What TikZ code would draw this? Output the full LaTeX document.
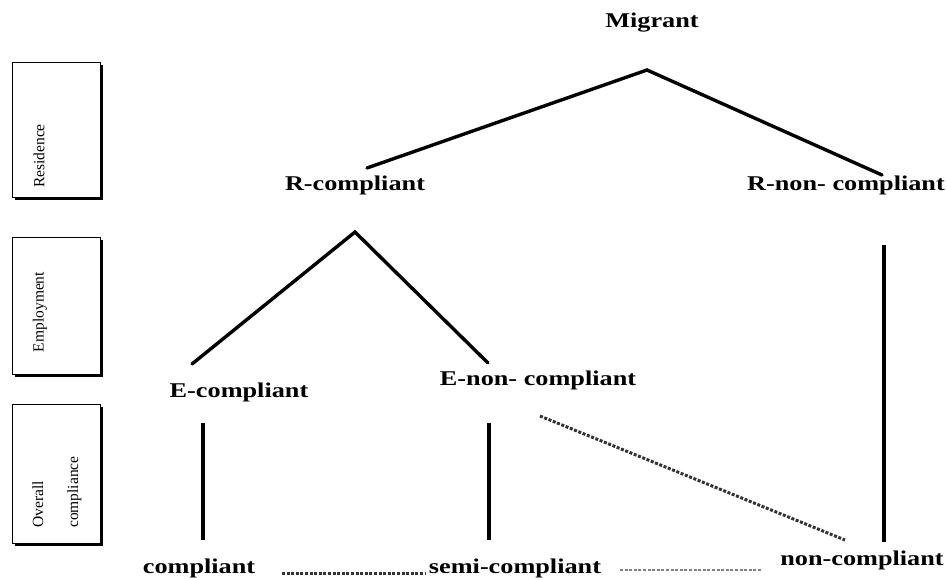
\documentclass[tikz,border=0pt]{standalone}
\usepackage{fontspec}
\setmainfont{Liberation Serif}[FakeStretch=1.25]
\newfontfamily\sidefont{Liberation Serif}
\usetikzlibrary{shadows}
\begin{document}
\begin{tikzpicture}[x=1pt,y=-1pt,
  lbl/.style={font=\fontsize{21}{24}\selectfont\bfseries, inner sep=0pt, anchor=base},
  sidebox/.style={draw=black, line width=1pt, fill=white,
    drop shadow={shadow xshift=2.5pt, shadow yshift=-2.5pt, fill=black, opacity=1}},
  sidetext/.style={font=\sidefont\fontsize{15.5}{35}\selectfont, rotate=90, inner sep=0pt, align=left},
  branch/.style={line width=3.4pt, line cap=round},
  stem/.style={line width=3.4pt},
  dotline/.style={line width=3pt, dash pattern=on 3pt off 1.6pt, draw=black!80},
  dotlight/.style={line width=2.6pt, dash pattern=on 3pt off 1.6pt, draw=black!50}]
\useasboundingbox (0,0) rectangle (947,579);

% side boxes
\node[sidebox, minimum width=88pt, minimum height=135pt, inner sep=0pt] (bres) at (56,129.5) {};
\node[sidebox, minimum width=88pt, minimum height=137pt, inner sep=0pt] (bemp) at (56,305.5) {};
\node[sidebox, minimum width=88pt, minimum height=139pt, inner sep=0pt] (bov) at (56,473.5) {};
\node[sidetext] (tres) at (39,156) {Residence};
\node[sidetext] (temp) at (40,312) {Employment};
\node[sidetext, anchor=west] (tov) at (57,528) {Overall\\compliance};

% labels
\node[lbl] (mig) at (652,27) {Migrant};
\node[lbl] (rc) at (355,190) {R-compliant};
\node[lbl] (rnc) at (846,190) {R-non- compliant};
\node[lbl] (ec) at (239,397) {E-compliant};
\node[lbl] (enc) at (538,385) {E-non- compliant};
\node[lbl] (comp) at (199,573) {compliant};
\node[lbl] (semi) at (515,573) {semi-compliant};
\node[lbl] (ncomp) at (862,565) {non-compliant};

% tree coordinates
\coordinate (apex1) at (647,70);
\coordinate (rcend) at (367,168);
\coordinate (rncend) at (882,175);
\coordinate (apex2) at (355,232);
\coordinate (ecend) at (192,364);
\coordinate (encend) at (488,363);
\coordinate (v1a) at (203,423); \coordinate (v1b) at (203,540);
\coordinate (v2a) at (489,423); \coordinate (v2b) at (489,540);
\coordinate (v3a) at (884,245); \coordinate (v3b) at (884,542);
\coordinate (da) at (540,416); \coordinate (db) at (845,540);
\coordinate (d1a) at (282,573); \coordinate (d1b) at (425,573);
\coordinate (d2a) at (620,570); \coordinate (d2b) at (762,570);

\draw[branch] (rcend) -- (apex1) -- (rncend);
\draw[branch] (ecend) -- (apex2) -- (encend);
\draw[stem] (v1a) -- (v1b);
\draw[stem] (v2a) -- (v2b);
\draw[stem] (v3a) -- (v3b);
\draw[dotline] (da) -- (db);
\draw[dotline] (d1a) -- (d1b);
\draw[dotlight] (d2a) -- (d2b);
\end{tikzpicture}
\end{document}
